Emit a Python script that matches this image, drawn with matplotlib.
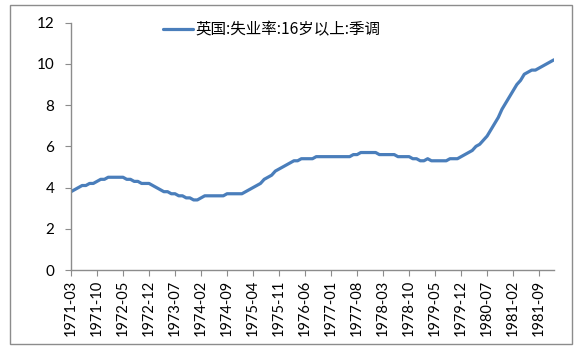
import matplotlib
matplotlib.use('Agg')
import matplotlib.pyplot as plt
from matplotlib.patches import Rectangle
import pandas as pd

# UK unemployment rate, 16+, seasonally adjusted, monthly from 1971-03
rate = [3.8, 3.9, 4.0, 4.1, 4.1, 4.2, 4.2, 4.3, 4.4, 4.4,      # 1971-03 .. 1971-12
        4.5, 4.5, 4.5, 4.5, 4.5, 4.4, 4.4, 4.3, 4.3, 4.2, 4.2, 4.2,  # 1972
        4.1, 4.0, 3.9, 3.8, 3.8, 3.7, 3.7, 3.6, 3.6, 3.5, 3.5, 3.4,  # 1973
        3.4, 3.5, 3.6, 3.6, 3.6, 3.6, 3.6, 3.6, 3.7, 3.7, 3.7, 3.7,  # 1974
        3.7, 3.8, 3.9, 4.0, 4.1, 4.2, 4.4, 4.5, 4.6, 4.8, 4.9, 5.0,  # 1975
        5.1, 5.2, 5.3, 5.3, 5.4, 5.4, 5.4, 5.4, 5.5, 5.5, 5.5, 5.5,  # 1976
        5.5, 5.5, 5.5, 5.5, 5.5, 5.5, 5.6, 5.6, 5.7, 5.7, 5.7, 5.7,  # 1977
        5.7, 5.6, 5.6, 5.6, 5.6, 5.6, 5.5, 5.5, 5.5, 5.5, 5.4, 5.4,  # 1978
        5.3, 5.3, 5.4, 5.3, 5.3, 5.3, 5.3, 5.3, 5.4, 5.4, 5.4, 5.5,  # 1979
        5.6, 5.7, 5.8, 6.0, 6.1, 6.3, 6.5, 6.8, 7.1, 7.4, 7.8, 8.1,  # 1980
        8.4, 8.7, 9.0, 9.2, 9.5, 9.6, 9.7, 9.7, 9.8, 9.9, 10.0, 10.1,  # 1981
        10.2]                                                       # 1982-01
months = pd.period_range('1971-03', periods=len(rate), freq='M')
tick_labels = ['1971-03', '1971-10', '1972-05', '1972-12', '1973-07', '1974-02',
               '1974-09', '1975-04', '1975-11', '1976-06', '1977-01', '1977-08',
               '1978-03', '1978-10', '1979-05', '1979-12', '1980-07', '1981-02',
               '1981-09']
series_name = '英国:失业率:16岁以上:季调'

labels = [str(m) for m in months]
x = list(range(len(rate)))
tick_pos = [labels.index(t) for t in tick_labels]

plt.rcParams['font.family'] = ['Lato', 'Noto Sans CJK SC', 'DejaVu Sans']

fig = plt.figure(figsize=(5.8, 3.5), dpi=100)
ax = fig.add_axes([71/580, 1-270/350, (554-71)/580, (270-22.7)/350])

line, = ax.plot(x, rate, color='#4a7ebb', lw=2.3, solid_capstyle='round',
                label=series_name)

ax.set_xlim(0, len(rate) - 1)
ax.set_ylim(0, 12)
ax.set_yticks([0, 2, 4, 6, 8, 10, 12])
ax.set_xticks(tick_pos)
ax.set_xticklabels(tick_labels, rotation=90, fontsize=10.5)
ax.tick_params(axis='y', labelsize=11, length=4, color='#8c8c8c', pad=8)
ax.tick_params(axis='x', length=4, color='#8c8c8c', pad=3)
for s in ['top', 'right']:
    ax.spines[s].set_visible(False)
for s in ['left', 'bottom']:
    ax.spines[s].set_color('#8c8c8c')
    ax.spines[s].set_linewidth(1.0)

fig.legend(handles=[line], loc='center left',
           bbox_to_anchor=(163/580, 1-30/350), frameon=False,
           borderpad=0, borderaxespad=0, handlelength=1.9, handletextpad=0.2,
           prop={'family': ['Noto Sans CJK SC', 'DejaVu Sans'], 'size': 11.2})

# outer chart-area border
fig.patches.append(Rectangle((10/580, 1-344/350), 562/580, 339/350,
                             transform=fig.transFigure, fill=False,
                             edgecolor='#8c8c8c', lw=1.0))

fig.savefig('out.png', dpi=100)
